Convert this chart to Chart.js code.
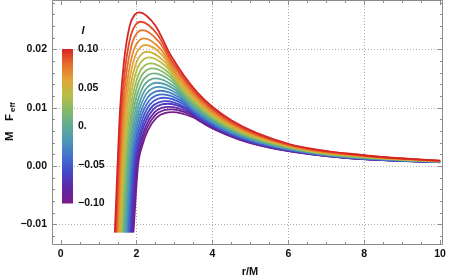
<!DOCTYPE html>
<html><head><meta charset="utf-8">
<script src="https://cdn.jsdelivr.net/npm/chart.js@4.4.0/dist/chart.umd.min.js"></script>
<style>html,body{margin:0;padding:0;background:#fff;}#wrap{width:449px;height:280px;}</style>
</head><body><div id="wrap"><canvas id="c" width="449" height="280"></canvas></div>
<script>
// ---- data ----
const lValues = [0.10,0.09,0.08,0.07,0.06,0.05,0.04,0.03,0.02,0.01,0.00,-0.01,-0.02,-0.03,-0.04,-0.05,-0.06,-0.07,-0.08,-0.09,-0.10];
const rValues = [
 [1.430,1.500,1.568,1.671,1.819,1.956,2.070,2.499,2.898,3.600,4.499,6.000,7.999,10],
 [1.455,1.527,1.597,1.703,1.856,1.997,2.114,2.547,2.949,3.657,4.564,6.078,8.095,10],
 [1.479,1.554,1.627,1.735,1.892,2.037,2.158,2.594,3.000,3.715,4.629,6.156,8.190,10],
 [1.504,1.581,1.656,1.767,1.929,2.078,2.202,2.642,3.052,3.772,4.695,6.235,8.286,10],
 [1.528,1.608,1.685,1.799,1.965,2.118,2.246,2.690,3.103,3.829,4.760,6.313,8.382,10],
 [1.553,1.635,1.714,1.832,2.002,2.159,2.290,2.738,3.154,3.887,4.825,6.391,8.478,10],
 [1.577,1.662,1.743,1.864,2.038,2.200,2.334,2.785,3.205,3.944,4.890,6.469,8.573,10],
 [1.602,1.689,1.772,1.896,2.075,2.240,2.378,2.833,3.256,4.001,4.955,6.547,8.669,10],
 [1.626,1.716,1.801,1.928,2.111,2.281,2.422,2.881,3.308,4.058,5.021,6.626,8.765,10],
 [1.651,1.743,1.830,1.960,2.148,2.321,2.466,2.928,3.359,4.116,5.086,6.704,8.860,10],
 [1.675,1.770,1.859,1.992,2.184,2.362,2.510,2.976,3.410,4.173,5.151,6.782,8.956,10],
 [1.700,1.797,1.888,2.024,2.221,2.403,2.554,3.024,3.461,4.230,5.216,6.860,9.052,10],
 [1.724,1.824,1.917,2.056,2.257,2.443,2.598,3.071,3.512,4.288,5.281,6.938,9.147,10],
 [1.749,1.851,1.946,2.088,2.294,2.484,2.642,3.119,3.564,4.345,5.347,7.017,9.243,10],
 [1.773,1.878,1.975,2.120,2.331,2.524,2.686,3.167,3.615,4.402,5.412,7.095,9.339,10],
 [1.798,1.905,2.004,2.153,2.367,2.565,2.730,3.215,3.666,4.460,5.477,7.173,9.435,10],
 [1.822,1.932,2.033,2.185,2.404,2.606,2.774,3.262,3.717,4.517,5.542,7.251,9.530,10],
 [1.847,1.959,2.062,2.217,2.440,2.646,2.818,3.310,3.768,4.574,5.607,7.329,9.626,10],
 [1.871,1.986,2.091,2.249,2.477,2.687,2.862,3.358,3.820,4.631,5.672,7.408,9.722,10],
 [1.896,2.013,2.120,2.281,2.513,2.727,2.906,3.405,3.871,4.688,5.738,7.486,9.817,10],
 [1.920,2.040,2.149,2.313,2.550,2.768,2.950,3.453,3.922,4.745,5.803,7.564,9.913,10]
];
const fValues = [
 [-0.0114,0,0.00975,0.01792,0.02398,0.02595,0.02635,0.02406,0.01902,0.01262,0.00783,0.00381,0.00184,0.00090],
 [-0.0114,0,0.00915,0.01682,0.02250,0.02436,0.02473,0.02258,0.01786,0.01185,0.00734,0.00357,0.00173,0.00089],
 [-0.0114,0,0.00862,0.01585,0.02121,0.02296,0.02331,0.02128,0.01683,0.01117,0.00692,0.00337,0.00163,0.00088],
 [-0.0114,0,0.00810,0.01489,0.01992,0.02156,0.02189,0.01999,0.01580,0.01049,0.00650,0.00316,0.00153,0.00086],
 [-0.0114,0,0.00767,0.01410,0.01887,0.02043,0.02074,0.01894,0.01497,0.00993,0.00616,0.00300,0.00145,0.00085],
 [-0.0114,0,0.00725,0.01332,0.01783,0.01930,0.01959,0.01789,0.01414,0.00938,0.00582,0.00283,0.00137,0.00084],
 [-0.0114,0,0.00689,0.01267,0.01695,0.01835,0.01863,0.01701,0.01345,0.00892,0.00553,0.00269,0.00130,0.00083],
 [-0.0114,0,0.00651,0.01197,0.01602,0.01734,0.01760,0.01607,0.01271,0.00843,0.00523,0.00254,0.00123,0.00081],
 [-0.0114,0,0.00619,0.01138,0.01523,0.01649,0.01674,0.01528,0.01209,0.00802,0.00497,0.00242,0.00117,0.00080],
 [-0.0114,0,0.00588,0.01080,0.01445,0.01564,0.01588,0.01450,0.01147,0.00761,0.00472,0.00229,0.00111,0.00078],
 [-0.0114,0,0.00556,0.01022,0.01368,0.01480,0.01503,0.01372,0.01085,0.00720,0.00446,0.00217,0.00105,0.00076],
 [-0.0114,0,0.00528,0.00970,0.01299,0.01406,0.01427,0.01303,0.01030,0.00684,0.00424,0.00206,0.00100,0.00075],
 [-0.0114,0,0.00502,0.00923,0.01236,0.01338,0.01358,0.01240,0.00980,0.00650,0.00403,0.00196,0.00095,0.00074],
 [-0.0114,0,0.00477,0.00877,0.01174,0.01271,0.01290,0.01178,0.00931,0.00618,0.00383,0.00186,0.00090,0.00073],
 [-0.0114,0,0.00454,0.00835,0.01117,0.01210,0.01228,0.01121,0.00887,0.00588,0.00365,0.00177,0.00086,0.00071],
 [-0.0114,0,0.00433,0.00796,0.01065,0.01152,0.01170,0.01068,0.00845,0.00560,0.00347,0.00169,0.00082,0.00070],
 [-0.0114,0,0.00412,0.00757,0.01013,0.01096,0.01113,0.01016,0.00804,0.00533,0.00331,0.00161,0.00078,0.00069],
 [-0.0114,0,0.00395,0.00726,0.00971,0.01051,0.01067,0.00974,0.00770,0.00511,0.00317,0.00154,0.00075,0.00068],
 [-0.0114,0,0.00376,0.00690,0.00924,0.01000,0.01015,0.00927,0.00733,0.00486,0.00301,0.00147,0.00071,0.00066],
 [-0.0114,0,0.00359,0.00660,0.00884,0.00956,0.00971,0.00887,0.00701,0.00465,0.00288,0.00140,0.00068,0.00065],
 [-0.0114,0,0.00342,0.00629,0.00842,0.00911,0.00925,0.00845,0.00668,0.00443,0.00275,0.00134,0.00065,0.00063]
];
const xTicks = [0,2,4,6,8,10];
const xTickLabels = ['0','2','4','6','8','10'];
const yTicks = [-0.01,0,0.01,0.02];
const yTickLabels = ['\u22120.01','0.00','0.01','0.02'];
const legendTicks = [0.10,0.05,0,-0.05,-0.10];
const legendTickLabels = ['0.10','0.05','0.','\u22120.05','\u22120.10'];
const lMin = -0.10, lMax = 0.10;

// ---- styling ----
const rainbow = [[0,[120,28,135]],[0.1,[95,40,165]],[0.2,[70,70,200]],[0.3,[65,110,205]],[0.4,[75,150,185]],[0.5,[95,170,150]],[0.6,[130,185,105]],[0.7,[185,190,70]],[0.8,[225,165,55]],[0.9,[230,110,45]],[1,[215,35,35]]];
function rainbowColor(f){
  for(let k=1;k<rainbow.length;k++){
    if(f<=rainbow[k][0]+1e-9){
      const a=rainbow[k-1], b=rainbow[k];
      const u=(f-a[0])/(b[0]-a[0]);
      const c=a[1].map((v,j)=>Math.round(v+(b[1][j]-v)*u));
      return 'rgb('+c.join(',')+')';
    }
  }
  return 'rgb('+rainbow[rainbow.length-1][1].join(',')+')';
}
const FONT = '"Liberation Sans", Arial, sans-serif';
const frameColor = '#8c8c8c';

const datasets = lValues.map((l,i)=>({
  label: 'l = '+l.toFixed(2),
  data: rValues[i].map((r,k)=>({x:r, y:fValues[i][k]})),
  borderColor: rainbowColor((l-lMin)/(lMax-lMin)),
  borderWidth: 1.8,
  pointRadius: 0,
  fill: false,
  cubicInterpolationMode: 'monotone'
}));

const decor = {
  id: 'decor',
  beforeDatasetsDraw(chart){
    const ctx = chart.ctx, a = chart.chartArea, xs = chart.scales.x, ys = chart.scales.y;
    ctx.save();
    ctx.strokeStyle = 'rgba(150,150,150,0.8)';
    ctx.lineWidth = 1;
    ctx.setLineDash([1,2]);
    xTicks.forEach(v=>{
      if(v===0 || v===10) return;
      const px = Math.round(xs.getPixelForValue(v))+0.5;
      ctx.beginPath(); ctx.moveTo(px,a.top); ctx.lineTo(px,a.bottom); ctx.stroke();
    });
    yTicks.forEach(v=>{
      const py = Math.round(ys.getPixelForValue(v))+0.5;
      ctx.beginPath(); ctx.moveTo(a.left,py); ctx.lineTo(a.right,py); ctx.stroke();
    });
    ctx.restore();
  },
  afterDatasetsDraw(chart){
    const ctx = chart.ctx, a = chart.chartArea, xs = chart.scales.x, ys = chart.scales.y;
    ctx.save();
    const L = a.left-0.5, R = a.right+0.5, T = a.top+0.5, B = a.bottom+0.5;
    ctx.strokeStyle = frameColor; ctx.lineWidth = 1;
    ctx.beginPath();
    ctx.moveTo(L,T); ctx.lineTo(R,T); ctx.lineTo(R,B); ctx.lineTo(L,B); ctx.closePath();
    ctx.stroke();
    // ticks
    function xt(v,len){
      const px = Math.round(xs.getPixelForValue(v))+0.5;
      ctx.beginPath(); ctx.moveTo(px,B); ctx.lineTo(px,B-len); ctx.moveTo(px,T); ctx.lineTo(px,T+len); ctx.stroke();
    }
    function yt(v,len){
      const py = Math.round(ys.getPixelForValue(v))+0.5;
      ctx.beginPath(); ctx.moveTo(L,py); ctx.lineTo(L+len,py); ctx.moveTo(R,py); ctx.lineTo(R-len,py); ctx.stroke();
    }
    for(let k=0;k<=20;k++){ const v=k*0.5; if(k%4!==0) xt(v,2.5); }
    xTicks.forEach(v=>xt(v,4.5));
    for(let k=-6;k<=14;k++){ if(k%5!==0) yt(k*0.002,2.5); }
    yTicks.forEach(v=>yt(v,4.5));
    // tick labels
    ctx.fillStyle = '#111';
    ctx.font = 'bold 10.5px '+FONT;
    ctx.textAlign = 'center'; ctx.textBaseline = 'middle';
    xTicks.forEach((v,i)=>ctx.fillText(xTickLabels[i], xs.getPixelForValue(v), 254));
    ctx.textAlign = 'right';
    yTicks.forEach((v,i)=>ctx.fillText(yTickLabels[i], 47, ys.getPixelForValue(v)));
    // axis titles
    ctx.font = 'bold 11px '+FONT;
    ctx.textAlign = 'center';
    ctx.fillText('r/M', 250, 271.5);
    ctx.textAlign = 'left'; ctx.textBaseline = 'alphabetic';
    function rot(text, x, y, font){
      ctx.save(); ctx.translate(x,y); ctx.rotate(-Math.PI/2); ctx.font = font; ctx.fillText(text,0,0); ctx.restore();
    }
    rot('M', 12.5, 141, 'bold 11.5px '+FONT);
    rot('F', 12.5, 121, 'bold 11.5px '+FONT);
    rot('eff', 15, 112, 'bold 8px '+FONT);
    // colour bar legend
    const cbL = 62, cbR = 73, cbT = 49, cbB = 203.5;
    const g = ctx.createLinearGradient(0, cbB, 0, cbT);
    rainbow.forEach(s=>g.addColorStop(s[0], 'rgb('+s[1].join(',')+')'));
    ctx.fillStyle = g;
    ctx.fillRect(cbL, cbT, cbR-cbL, cbB-cbT);
    ctx.fillStyle = '#111';
    ctx.font = 'bold 10.5px '+FONT;
    ctx.textAlign = 'left'; ctx.textBaseline = 'middle';
    legendTicks.forEach((v,i)=>{
      const py = cbT + (lMax - v)/(lMax-lMin)*(cbB-cbT);
      ctx.fillText(legendTickLabels[i], 78, py);
    });
    ctx.font = 'italic bold 11px '+FONT;
    ctx.textAlign = 'center';
    ctx.fillText('l', 83, 31);
    ctx.restore();
  }
};

new Chart(document.getElementById('c'), {
  type: 'line',
  data: { datasets },
  options: {
    responsive: false,
    animation: false,
    devicePixelRatio: 1,
    layout: { padding: { left: 53, right: 7, top: 0, bottom: 36 } },
    scales: {
      x: { type: 'linear', min: -0.2, max: 10.05, display: false },
      y: { type: 'linear', min: -0.01338, max: 0.02846, display: false }
    },
    plugins: { legend: { display: false }, tooltip: { enabled: false } }
  },
  plugins: [decor]
});
</script>
</body></html>
